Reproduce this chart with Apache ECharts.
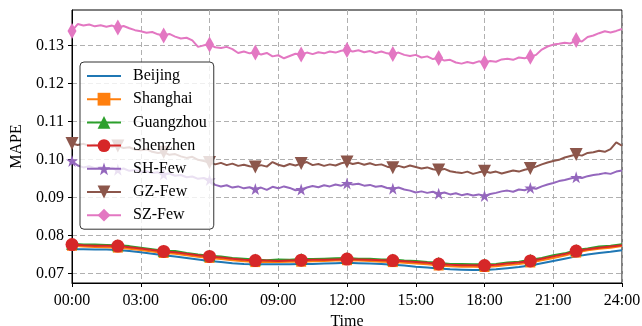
<!DOCTYPE html>
<html>
<head>
<meta charset="utf-8">
<script src="https://cdn.jsdelivr.net/npm/echarts@6/dist/echarts.min.js"></script>
<style>
html,body{margin:0;padding:0;background:#fff;}
#main{width:642px;height:326px;}
</style>
</head>
<body>
<div id="main"></div>
<script>
// ---- data ----
const seriesNames = ['Beijing', 'Shanghai', 'Guangzhou', 'Shenzhen', 'SH-Few', 'GZ-Few', 'SZ-Few'];
const yTicks = [0.07, 0.08, 0.09, 0.10, 0.11, 0.12, 0.13];
const xTicks = [0, 3, 6, 9, 12, 15, 18, 21, 24];

// 30-minute samples, 00:00 .. 24:00
const beijing = [0.0764,0.0764,0.0763,0.0763,0.0762,0.0759,0.0756,0.0752,0.0748,0.0745,0.0741,0.0737,0.0733,0.0730,0.0727,0.0725,0.0724,0.0724,0.0724,0.0724,0.0725,0.0725,0.0726,0.0727,0.0728,0.0727,0.0726,0.0725,0.0723,0.0721,0.0718,0.0716,0.0713,0.0711,0.0710,0.0709,0.0709,0.0711,0.0714,0.0717,0.0721,0.0727,0.0733,0.0739,0.0745,0.0750,0.0754,0.0757,0.0761];
const shanghai = [0.0773,0.0771,0.0770,0.0769,0.0768,0.0765,0.0762,0.0758,0.0754,0.0752,0.0748,0.0744,0.0741,0.0738,0.0735,0.0732,0.0730,0.0731,0.0730,0.0731,0.0731,0.0732,0.0733,0.0734,0.0735,0.0734,0.0733,0.0731,0.0730,0.0728,0.0726,0.0724,0.0721,0.0719,0.0718,0.0718,0.0717,0.0719,0.0722,0.0725,0.0729,0.0735,0.0741,0.0747,0.0755,0.0761,0.0765,0.0768,0.0772];
const guangzhou = [0.0778,0.0776,0.0776,0.0775,0.0774,0.0772,0.0768,0.0764,0.0760,0.0759,0.0754,0.0750,0.0747,0.0745,0.0741,0.0739,0.0737,0.0735,0.0737,0.0736,0.0738,0.0738,0.0739,0.0740,0.0741,0.0739,0.0739,0.0737,0.0737,0.0734,0.0733,0.0730,0.0728,0.0725,0.0725,0.0724,0.0724,0.0725,0.0729,0.0731,0.0736,0.0741,0.0748,0.0753,0.0762,0.0766,0.0771,0.0773,0.0777];
const shenzhen = [0.0776,0.0774,0.0773,0.0773,0.0772,0.0769,0.0766,0.0762,0.0758,0.0756,0.0752,0.0748,0.0745,0.0742,0.0739,0.0736,0.0734,0.0734,0.0733,0.0734,0.0735,0.0736,0.0736,0.0737,0.0738,0.0737,0.0736,0.0735,0.0734,0.0732,0.0730,0.0728,0.0725,0.0723,0.0722,0.0722,0.0721,0.0723,0.0726,0.0729,0.0733,0.0739,0.0745,0.0751,0.0759,0.0764,0.0768,0.0771,0.0774];

// 15-minute samples, 00:00 .. 24:00
const shFew = [0.0996,0.0984,0.0979,0.0982,0.0977,0.0980,0.0975,0.0978,0.0973,0.0976,0.0970,0.0972,0.0967,0.0969,0.0964,0.0966,0.0961,0.0963,0.0957,0.0959,0.0953,0.0955,0.0949,0.0951,0.0946,0.0933,0.0929,0.0932,0.0926,0.0929,0.0924,0.0927,0.0922,0.0926,0.0920,0.0928,0.0924,0.0929,0.0925,0.0919,0.0921,0.0926,0.0930,0.0927,0.0932,0.0929,0.0934,0.0931,0.0937,0.0934,0.0936,0.0931,0.0933,0.0928,0.0930,0.0925,0.0923,0.0926,0.0921,0.0918,0.0913,0.0916,0.0912,0.0915,0.0910,0.0913,0.0908,0.0911,0.0906,0.0909,0.0905,0.0908,0.0904,0.0909,0.0912,0.0916,0.0918,0.0915,0.0921,0.0919,0.0925,0.0923,0.0929,0.0934,0.0938,0.0943,0.0946,0.0950,0.0953,0.0951,0.0956,0.0959,0.0961,0.0964,0.0962,0.0968,0.0971];
const gzFew = [0.1042,0.1038,0.1041,0.1036,0.1039,0.1035,0.1037,0.1033,0.1035,0.1030,0.1032,0.1026,0.1024,0.1027,0.1020,0.1017,0.1019,0.1012,0.1014,0.1008,0.1004,0.1007,0.0999,0.0996,0.0992,0.0987,0.0991,0.0985,0.0989,0.0983,0.0986,0.0982,0.0980,0.0985,0.0981,0.0993,0.0986,0.0982,0.0988,0.0984,0.0989,0.0993,0.0985,0.0988,0.0983,0.0987,0.0984,0.0990,0.0993,0.0988,0.0991,0.0986,0.0990,0.0985,0.0987,0.0981,0.0978,0.0983,0.0979,0.0984,0.0980,0.0976,0.0979,0.0974,0.0972,0.0975,0.0969,0.0966,0.0964,0.0968,0.0962,0.0966,0.0969,0.0965,0.0968,0.0963,0.0967,0.0971,0.0968,0.0973,0.0976,0.0981,0.0987,0.0992,0.0996,0.0999,0.1005,0.1009,0.1013,0.1010,0.1017,0.1019,0.1023,0.1020,0.1027,0.1045,0.1036];
const szFew = [0.1338,0.1356,0.1352,0.1355,0.1350,0.1353,0.1349,0.1352,0.1347,0.1351,0.1345,0.1340,0.1337,0.1333,0.1335,0.1329,0.1326,0.1330,0.1323,0.1318,0.1320,0.1313,0.1296,0.1300,0.1302,0.1295,0.1293,0.1296,0.1290,0.1280,0.1284,0.1279,0.1281,0.1276,0.1280,0.1271,0.1274,0.1266,0.1272,0.1278,0.1276,0.1281,0.1277,0.1282,0.1279,0.1284,0.1281,0.1286,0.1288,0.1284,0.1287,0.1282,0.1285,0.1280,0.1284,0.1279,0.1277,0.1281,0.1275,0.1272,0.1275,0.1268,0.1271,0.1264,0.1267,0.1260,0.1262,0.1255,0.1252,0.1256,0.1253,0.1258,0.1255,0.1259,0.1257,0.1263,0.1265,0.1262,0.1268,0.1266,0.1270,0.1275,0.1289,0.1297,0.1302,0.1304,0.1307,0.1305,0.1314,0.1310,0.1322,0.1326,0.1332,0.1337,0.1334,0.1338,0.1343];

// ---- build ----
const colors = ['#1f77b4','#ff7f0e','#2ca02c','#d62728','#9467bd','#8c564b','#e377c2'];
const STAR = 'path://M50,0 L61.8,35.4 L99,35.4 L69,57.3 L80.4,92.7 L50,70.8 L19.6,92.7 L31,57.3 L1,35.4 L38.2,35.4 Z';
const symbols = ['none','rect','triangle','circle',STAR,'triangle','diamond'];
const sizes = [0, 10, 12, 13, 12, 13, [9,16]];
const rotates = [0,0,0,0,0,180,0];
const allData = [beijing, shanghai, guangzhou, shenzhen, shFew, gzFew, szFew];

function build(values) {
  const step = 24 / (values.length - 1);
  const every = Math.round(2 / step);
  return values.map((v, i) => {
    const item = { value: [i * step, v] };
    if (i % every !== 0 || i === values.length - 1) item.symbol = 'none';
    return item;
  });
}

const series = allData.map((vals, k) => ({
  name: seriesNames[k],
  type: 'line',
  data: build(vals),
  symbol: symbols[k],
  symbolSize: sizes[k],
  symbolRotate: rotates[k],
  showAllSymbol: true,
  animation: false,
  lineStyle: { width: 2, color: colors[k] },
  itemStyle: { color: colors[k], borderWidth: 0 },
  emphasis: { disabled: true },
  z: 3 + k
}));

const legendData = seriesNames.map((n, k) => k === 0
  ? { name: n, itemStyle: { color: 'rgba(0,0,0,0)', borderWidth: 0 } }
  : { name: n });

const chart = echarts.init(document.getElementById('main'), null, { renderer: 'canvas' });
const FONT = 'Liberation Serif';
chart.setOption({
  animation: false,
  color: colors,
  grid: { left: 72, right: 20, top: 10, bottom: 43, show: true, borderColor: '#000', borderWidth: 1,
    backgroundColor: 'transparent', containLabel: false, outerBoundsMode: 'none' },
  legend: {
    orient: 'vertical',
    left: 80, top: 62,
    data: legendData,
    itemWidth: 34, itemHeight: 16, itemGap: 7.2,
    padding: [6, 7, 6, 6],
    backgroundColor: 'rgba(255,255,255,0.8)',
    borderColor: '#333', borderWidth: 1, borderRadius: 4,
    textStyle: { fontFamily: FONT, fontSize: 16, lineHeight: 16, color: '#000', padding: [0, 0, 0, 7] },
    z: 10
  },
  xAxis: {
    type: 'value', min: 0, max: 24, interval: 3,
    name: 'Time', nameLocation: 'middle', nameGap: 31,
    nameTextStyle: { fontFamily: FONT, fontSize: 16, color: '#000' },
    axisLine: { show: true, lineStyle: { color: '#000', width: 1 } },
    axisTick: { show: true, inside: false, length: 4, lineStyle: { color: '#000' } },
    axisLabel: { fontFamily: FONT, fontSize: 16, color: '#000', margin: 10,
      formatter: v => (v < 10 ? '0' : '') + v + ':00' },
    splitLine: { show: true, lineStyle: { color: '#b0b0b0', type: [5, 3], width: 1 } }
  },
  yAxis: {
    type: 'value', min: 0.0675, max: 0.1393,
    name: 'MAPE', nameLocation: 'middle', nameGap: 46, nameRotate: 90,
    nameTextStyle: { fontFamily: FONT, fontSize: 16, color: '#000' },
    axisLine: { show: true, lineStyle: { color: '#000', width: 1 } },
    axisTick: { show: true, inside: false, length: 4, customValues: yTicks, lineStyle: { color: '#000' } },
    axisLabel: { fontFamily: FONT, fontSize: 16, color: '#000', margin: 8, customValues: yTicks,
      formatter: v => v.toFixed(2) },
    splitLine: { show: true, lineStyle: { color: '#b0b0b0', type: [5, 3], width: 1 } }
  },
  series: series
});
</script>
</body>
</html>
